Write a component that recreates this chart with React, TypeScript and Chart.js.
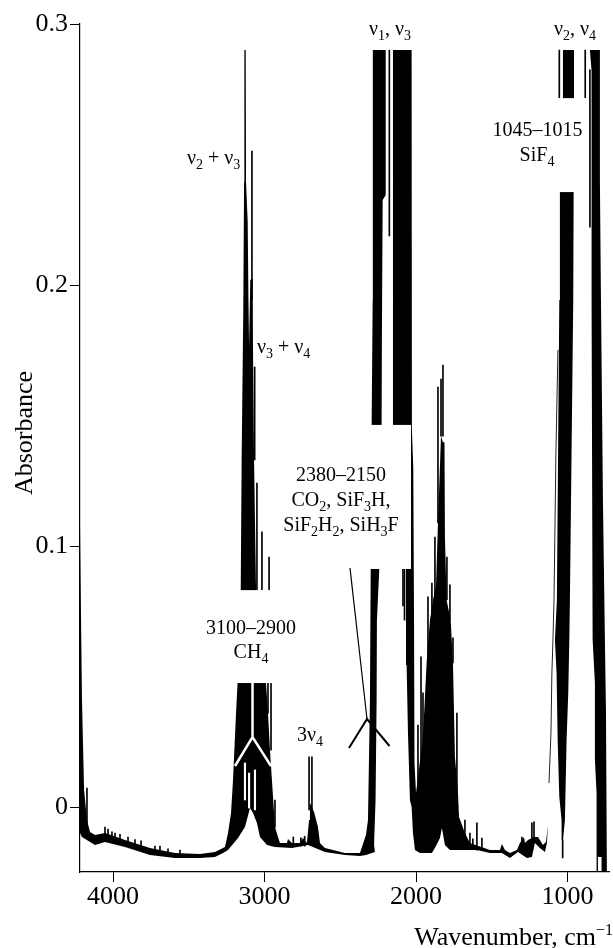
import React, { useEffect, useRef } from "react";
import { Chart, registerables } from "chart.js";

Chart.register(...registerables);

const FONT = '"Liberation Serif", serif';

const xTicks = [4000, 3000, 2000, 1000];
const yTicks = [0, 0.1, 0.2, 0.3];

// Upper edge of the spectrum's dense black envelope
const upperWavenumber = [4218, 4211, 4205, 4191, 4172, 4152, 4119, 4053, 4033, 3921, 3756, 3591, 3426, 3327, 3261, 3241, 3221, 3208, 3188, 3178, 3157, 3151, 3140, 3135, 3133, 3124, 3122, 3111, 3106, 3102, 3098, 3094, 3078, 3076, 3069, 3056, 2990, 2977, 2964, 2951, 2931, 2911, 2898, 2852, 2845, 2819, 2766, 2746, 2720, 2706, 2700, 2673, 2647, 2634, 2601, 2469, 2370, 2337, 2330, 2317, 2304, 2299, 2293, 2286, 2285, 2200, 2200, 2220, 2225, 2227, 2242, 2258, 2260, 2267, 2277, 2271, 2152, 2152, 2029, 2027, 2018, 2013, 2013, 2007, 2000, 1954, 1930, 1908, 1888, 1868, 1855, 1835, 1822, 1812, 1809, 1798, 1771, 1756, 1743, 1723, 1716, 1677, 1644, 1512, 1446, 1433, 1413, 1380, 1334, 1314, 1287, 1281, 1261, 1221, 1195, 1162, 1142, 1129, 1037, 1039, 1054, 1065, 1072, 1083, 1070, 1054, 1050, 1030, 1030, 957, 957, 962, 984, 988, 995, 1006, 1017, 1030, 841, 841, 852, 786, 786, 779, 766, 753, 746, 740];
const upperAbsorbance = [0.108, 0.0716, 0.041, 0.0065, -0.005, -0.0096, -0.0107, -0.01, -0.0103, -0.0126, -0.0157, -0.0176, -0.018, -0.0172, -0.0153, -0.01, -0.0023, 0.0103, 0.036, 0.0475, 0.0831, 0.133, 0.1916, 0.2395, 0.29, 0.29, 0.2395, 0.2241, 0.1943, 0.1762, 0.1762, 0.2019, 0.2027, 0.1751, 0.133, 0.0831, 0.0475, 0.036, 0.0218, 0.0103, -0.0077, -0.0115, -0.0138, -0.0138, -0.0123, -0.0138, -0.0138, -0.0119, -0.0138, -0.005, 0.0015, -0.0019, -0.0077, -0.0138, -0.0157, -0.0176, -0.0176, -0.0119, -0.0107, -0.005, 0.041, 0.0916, 0.146, 0.1943, 0.29, 0.29, 0.2345, 0.2326, 0.1816, 0.146, 0.0916, 0.0716, 0.041, 0.0027, -0.0146, -0.0172, -0.0172, 0.29, 0.29, 0.1444, 0.1299, 0.0716, 0.0245, 0.0169, 0.0054, 0.0268, 0.0552, 0.0716, 0.0793, 0.0847, 0.1088, 0.1421, 0.1398, 0.1398, 0.1034, 0.0793, 0.0716, 0.0552, 0.0192, 0.0054, -0.0038, -0.01, -0.0138, -0.0165, -0.0165, -0.0142, -0.0165, -0.0176, -0.0165, -0.0138, -0.0115, -0.0138, -0.0126, -0.0115, -0.0115, -0.0146, -0.0134, -0.0069, -0.0126, -0.005, 0.0038, 0.0257, 0.0513, 0.064, 0.0793, 0.1943, 0.2356, 0.2716, 0.29, 0.29, 0.2716, 0.1943, 0.0793, 0.064, 0.0437, 0.0257, -0.005, -0.013, 0.1943, 0.282, 0.29, 0.29, 0.2395, 0.1943, 0.1176, 0.064, 0.0364, -0.0249];

// Lower edge of the same envelope
const lowerWavenumber = [4218, 4218, 4205, 4119, 4053, 3921, 3756, 3591, 3426, 3327, 3274, 3241, 3175, 3129, 3096, 3076, 3050, 3030, 2984, 2931, 2819, 2713, 2601, 2469, 2370, 2330, 2291, 2271, 2152, 2152, 2145, 2066, 2062, 2053, 2040, 2029, 2020, 2007, 1974, 1895, 1868, 1842, 1829, 1809, 1776, 1730, 1598, 1512, 1433, 1380, 1327, 1268, 1235, 1215, 1182, 1149, 1136, 1129, 1037, 1030, 841, 834, 819, 819, 808, 806, 799, 799, 775, 775, 740];
const lowerAbsorbance = [0.108, -0.01, -0.0115, -0.0146, -0.0134, -0.0153, -0.0184, -0.0195, -0.0195, -0.0192, -0.0176, -0.0165, -0.0119, -0.0077, -0.0004, -0.0023, -0.0061, -0.0115, -0.0146, -0.0153, -0.0157, -0.0146, -0.0172, -0.0184, -0.0188, -0.0184, -0.0176, -0.0172, -0.0172, 0.1444, 0.1444, 0.0916, 0.0544, 0.0284, 0.0027, 0, -0.01, -0.0165, -0.0176, -0.0176, -0.0149, -0.0119, -0.008, -0.0146, -0.0165, -0.0165, -0.0165, -0.0176, -0.0176, -0.0195, -0.0172, -0.0195, -0.0192, -0.0138, -0.0157, -0.0172, -0.0138, -0.0069, -0.0126, -0.013, 0.1943, 0.064, 0.0475, 0.018, 0.0054, -0.0249, -0.0249, -0.0192, -0.0192, -0.0249, -0.0249];

// Narrow lines standing above the envelope
const spikeWavenumber = [3083, 3065, 3050, 3017, 2970, 2977, 2957, 2931, 2706, 2687, 4172, 4053, 2176, 2086, 2076, 1822, 1835, 1855, 1875, 1895, 1921, 1796, 1776, 1967, 1954, 1987, 1756, 1730, 1677, 1598, 1565, 1235, 1221, 1301, 883, 1054, 852, 1032, 4033, 4007, 3987, 3954, 3901, 3855, 3815, 3723, 3690, 3637, 3558, 1644, 1625, 2810, 2760, 2735];
const spikeTop = [0.2513, 0.1686, 0.1241, 0.1054, 0.0958, 0.0475, 0.0475, 0.0027, 0.0192, 0.0192, 0.0073, -0.0077, 0.29, 0.0916, 0.0916, 0.1693, 0.164, 0.1609, 0.1034, 0.0858, 0.0805, 0.0958, 0.0851, 0.0575, 0.0437, 0.0314, 0.0648, 0.036, -0.005, -0.0061, -0.0119, -0.0061, -0.0057, -0.0115, 0.29, 0.29, 0.2824, -0.0126, -0.0085, -0.0095, -0.01, -0.0105, -0.0115, -0.0125, -0.013, -0.015, -0.015, -0.016, -0.0165, -0.01, -0.0122, -0.0115, -0.0118, -0.0112];
const spikeBase = [0.1943, 0.133, 0.0831, 0.0831, 0.0831, 0.036, 0.0218, -0.0077, -0.0011, -0.0011, -0.0088, -0.0107, 0.2188, 0.077, 0.0716, 0.1421, 0.1421, 0.1088, 0.0793, 0.0716, 0.0563, 0.0793, 0.0716, 0.0027, 0.0103, 0.0084, 0.0552, 0.0027, -0.0107, -0.0165, -0.0165, -0.0126, -0.0126, -0.0146, 0.2716, 0.2716, 0.2222, -0.0195, -0.0115, -0.012, -0.0125, -0.013, -0.0135, -0.015, -0.0155, -0.017, -0.017, -0.018, -0.0185, -0.015, -0.016, -0.015, -0.015, -0.015];

// Narrow transmission dips cutting into the CH4 band
const dipWavenumber = [3129, 3102, 3063];
const dipTop = [0.0169, 0.013, 0.0142];
const dipBase = [0.0027, -0.0004, -0.0011];

// Thin wing on the high-wavenumber side of the SiF4 band
const wingWavenumber = [1122, 1109, 1103, 1096, 1089, 1076, 1063];
const wingAbsorbance = [0.0092, 0.0284, 0.0513, 0.064, 0.0793, 0.1368, 0.1751];

type Seg = { t: string; sub?: boolean };
const nu = "\u03BD";
const labels: { x: number; y: number; a: CanvasTextAlign; s: Seg[] }[] = [
  { x: 187, y: 164, a: "left", s: [{ t: nu }, { t: "2", sub: true }, { t: " + " + nu }, { t: "3", sub: true }] },
  { x: 257, y: 353, a: "left", s: [{ t: nu }, { t: "3", sub: true }, { t: " + " + nu }, { t: "4", sub: true }] },
  { x: 369, y: 35, a: "left", s: [{ t: nu }, { t: "1", sub: true }, { t: ", " + nu }, { t: "3", sub: true }] },
  { x: 554, y: 35, a: "left", s: [{ t: nu }, { t: "2", sub: true }, { t: ", " + nu }, { t: "4", sub: true }] },
  { x: 537.5, y: 136, a: "center", s: [{ t: "1045\u20131015" }] },
  { x: 537, y: 161, a: "center", s: [{ t: "SiF" }, { t: "4", sub: true }] },
  { x: 341, y: 481, a: "center", s: [{ t: "2380\u20132150" }] },
  { x: 341, y: 506, a: "center", s: [{ t: "CO" }, { t: "2", sub: true }, { t: ", SiF" }, { t: "3", sub: true }, { t: "H," }] },
  { x: 341, y: 531, a: "center", s: [{ t: "SiF" }, { t: "2", sub: true }, { t: "H" }, { t: "2", sub: true }, { t: ", SiH" }, { t: "3", sub: true }, { t: "F" }] },
  { x: 251, y: 634, a: "center", s: [{ t: "3100\u20132900" }] },
  { x: 251, y: 658, a: "center", s: [{ t: "CH" }, { t: "4", sub: true }] },
  { x: 297, y: 741, a: "left", s: [{ t: "3" + nu }, { t: "4", sub: true }] },
];

const annotate = {
  id: "annotate",
  afterDatasetsDraw(chart: any) {
    const { ctx, scales } = chart;
    const px = (w: number) => scales.x.getPixelForValue(w);
    const py = (a: number) => scales.y.getPixelForValue(a);
    ctx.save();
    // white label panels laid over the spectrum
    ctx.fillStyle = "#fff";
    const panels = [
      [3185, 2945, 0.0831, 0.0475],
      [2420, 2033, 0.1464, 0.0912],
      [1085, 860, 0.2716, 0.2356],
    ];
    for (const [w0, w1, a0, a1] of panels) {
      ctx.fillRect(px(w0), py(a0), px(w1) - px(w0), py(a1) - py(a0));
    }
    // band brackets
    ctx.lineCap = "butt";
    ctx.lineJoin = "miter";
    ctx.strokeStyle = "#fff";
    ctx.lineWidth = 2.5;
    ctx.beginPath();
    ctx.moveTo(235, 766);
    ctx.lineTo(252.5, 737);
    ctx.lineTo(271, 766);
    ctx.moveTo(252.5, 683);
    ctx.lineTo(252.5, 737);
    ctx.stroke();
    ctx.strokeStyle = "#000";
    ctx.lineWidth = 2;
    ctx.beginPath();
    ctx.moveTo(349, 748);
    ctx.lineTo(367, 719);
    ctx.lineTo(389.5, 746);
    ctx.stroke();
    ctx.lineWidth = 1.2;
    ctx.beginPath();
    ctx.moveTo(350, 568);
    ctx.lineTo(367, 719);
    ctx.stroke();
    // text
    ctx.fillStyle = "#000";
    ctx.textBaseline = "alphabetic";
    ctx.textAlign = "left";
    const big = `20px ${FONT}`;
    const small = `14px ${FONT}`;
    for (const l of labels) {
      let width = 0;
      for (const s of l.s) {
        ctx.font = s.sub ? small : big;
        width += ctx.measureText(s.t).width;
      }
      let x = l.a === "center" ? l.x - width / 2 : l.x;
      for (const s of l.s) {
        ctx.font = s.sub ? small : big;
        ctx.fillText(s.t, x, s.sub ? l.y + 5 : l.y);
        x += ctx.measureText(s.t).width;
      }
    }
    // x axis title with superscript
    const main = "Wavenumber, cm";
    const sup = "\u22121";
    ctx.font = `16px ${FONT}`;
    const supW = ctx.measureText(sup).width;
    ctx.font = `26px ${FONT}`;
    const mainW = ctx.measureText(main).width;
    const right = 613;
    ctx.fillText(main, right - supW - mainW, 945);
    ctx.font = `16px ${FONT}`;
    ctx.fillText(sup, right - supW, 935);
    // y axis title
    ctx.save();
    ctx.translate(32, 433);
    ctx.rotate(-Math.PI / 2);
    ctx.textAlign = "center";
    ctx.font = `26px ${FONT}`;
    ctx.fillText("Absorbance", 0, 0);
    ctx.restore();
    ctx.restore();
  },
};

export default function App() {
  const ref = useRef<HTMLCanvasElement | null>(null);
  useEffect(() => {
    if (!ref.current) return;
    const polygon = [
      ...upperWavenumber.map((x, i) => ({ x, y: upperAbsorbance[i] })),
      ...lowerWavenumber.map((x, i) => ({ x, y: lowerAbsorbance[i] })).reverse(),
    ];
    const chart = new Chart(ref.current, {
      data: {
        datasets: [
          {
            type: "bar",
            label: "dips",
            data: dipWavenumber.map((x, i) => ({ x, y: [dipBase[i], dipTop[i]] })),
            backgroundColor: "#fff",
            barThickness: 1.5,
            grouped: false,
            order: 0,
          },
          {
            type: "bar",
            label: "lines",
            data: spikeWavenumber.map((x, i) => ({ x, y: [spikeBase[i], spikeTop[i]] })),
            backgroundColor: "#000",
            barThickness: 1,
            grouped: false,
            order: 1,
          },
          {
            type: "line",
            label: "spectrum",
            data: polygon,
            borderWidth: 0,
            borderColor: "#000",
            backgroundColor: "#000",
            pointRadius: 0,
            tension: 0,
            fill: "shape",
            order: 2,
          },
          {
            type: "line",
            label: "wing",
            data: wingWavenumber.map((x, i) => ({ x, y: wingAbsorbance[i] })),
            borderWidth: 1,
            borderColor: "#222",
            pointRadius: 0,
            tension: 0,
            fill: false,
            order: 3,
          },
        ],
      } as any,
      options: {
        animation: false,
        responsive: false,
        layout: { padding: { top: 24, right: 4, left: 0, bottom: 0 } },
        plugins: { legend: { display: false }, tooltip: { enabled: false }, title: { display: false } },
        scales: {
          x: {
            type: "linear",
            reverse: true,
            min: 726,
            max: 4218,
            offset: false,
            afterFit: (s: any) => { s.height = 76; },
            afterBuildTicks: (s: any) => { s.ticks = xTicks.map((value) => ({ value })); },
            grid: { offset: false, drawOnChartArea: false, tickLength: 10, color: "#000", tickWidth: 1 },
            border: { color: "#000", width: 1.2 },
            ticks: {
              color: "#000",
              font: { family: FONT, size: 26 },
              maxRotation: 0,
              autoSkip: false,
              padding: 0,
              callback: (v: any) => String(v),
            },
          },
          y: {
            type: "linear",
            min: -0.0249,
            max: 0.3,
            afterFit: (s: any) => { s.width = 80; },
            afterBuildTicks: (s: any) => { s.ticks = yTicks.map((value) => ({ value })); },
            grid: { drawOnChartArea: false, tickLength: 10, color: "#000", tickWidth: 1 },
            border: { color: "#000", width: 1.2 },
            ticks: {
              color: "#000",
              font: { family: FONT, size: 26 },
              padding: 2,
              autoSkip: false,
              callback: (v: any) => String(v),
            },
          },
        },
      },
      plugins: [annotate],
    } as any);
    return () => chart.destroy();
  }, []);
  return (
    <canvas
      ref={ref}
      width={613}
      height={948}
      style={{ position: "absolute", left: 0, top: 0, width: 613, height: 948, background: "#fff", display: "block" }}
    />
  );
}
